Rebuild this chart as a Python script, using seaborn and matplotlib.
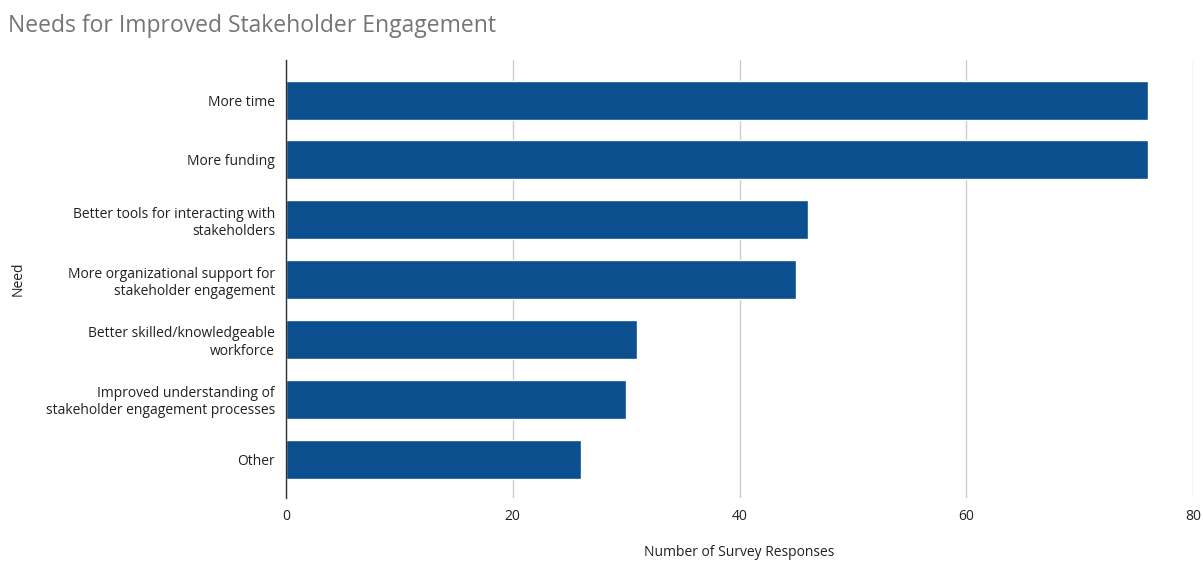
import matplotlib
matplotlib.use("Agg")
import matplotlib.pyplot as plt
import seaborn as sns
import pandas as pd

categories = [
    "More time",
    "More funding",
    "Better tools for interacting with\nstakeholders",
    "More organizational support for\nstakeholder engagement",
    "Better skilled/knowledgeable\nworkforce",
    "Improved understanding of\nstakeholder engagement processes",
    "Other",
]
responses = [76, 76, 46, 45, 31, 30, 26]
x_ticks = [0, 20, 40, 60, 80]

sns.set_theme(style="white")
plt.rcParams['font.family'] = ['Open Sans', 'DejaVu Sans']

df = pd.DataFrame({"Need": categories, "Responses": responses})

fig = plt.figure(figsize=(12.03, 5.62), dpi=100)
ax = fig.add_axes([286/1203, 1 - 498/562, (1193-286)/1203, (498-60)/562])

sns.barplot(data=df, y="Need", x="Responses", color="#0b4f8f", width=0.65,
            saturation=1, ax=ax, orient="h", zorder=3)

ax.set_xlim(0, 80)
ax.set_ylim(6.65, -0.67)
ax.set_xticks(x_ticks)
ax.set_xticklabels([str(t) for t in x_ticks], fontsize=10, color="#222222")
ax.tick_params(axis="y", labelsize=10, labelcolor="#222222", length=0, pad=8)
ax.tick_params(axis="x", length=0, pad=8)
for lbl in ax.get_yticklabels():
    lbl.set_horizontalalignment("right")
    lbl.set_multialignment("right")
ax.grid(axis="x", color="#cccccc", linewidth=1, zorder=0)
for s in ["top", "right", "bottom"]:
    ax.spines[s].set_visible(False)
ax.spines["left"].set_color("#333333")
ax.spines["left"].set_linewidth(1)
ax.spines["left"].set_zorder(4)

ax.set_xlabel("Number of Survey Responses", fontsize=10, color="#222222")
ax.xaxis.set_label_coords(0.5, -(553 - 498) / 438)
ax.xaxis.label.set_verticalalignment("center")
ax.set_ylabel("Need", fontsize=10, color="#222222")
ax.yaxis.set_label_coords(-(286 - 18) / 907, 0.5)
ax.yaxis.label.set_verticalalignment("center")

fig.text(8/1203, 1 - 26/562, "Needs for Improved Stakeholder Engagement",
         fontsize=16.5, color="#757575", va="center", ha="left")

fig.savefig("out.png", dpi=100)
